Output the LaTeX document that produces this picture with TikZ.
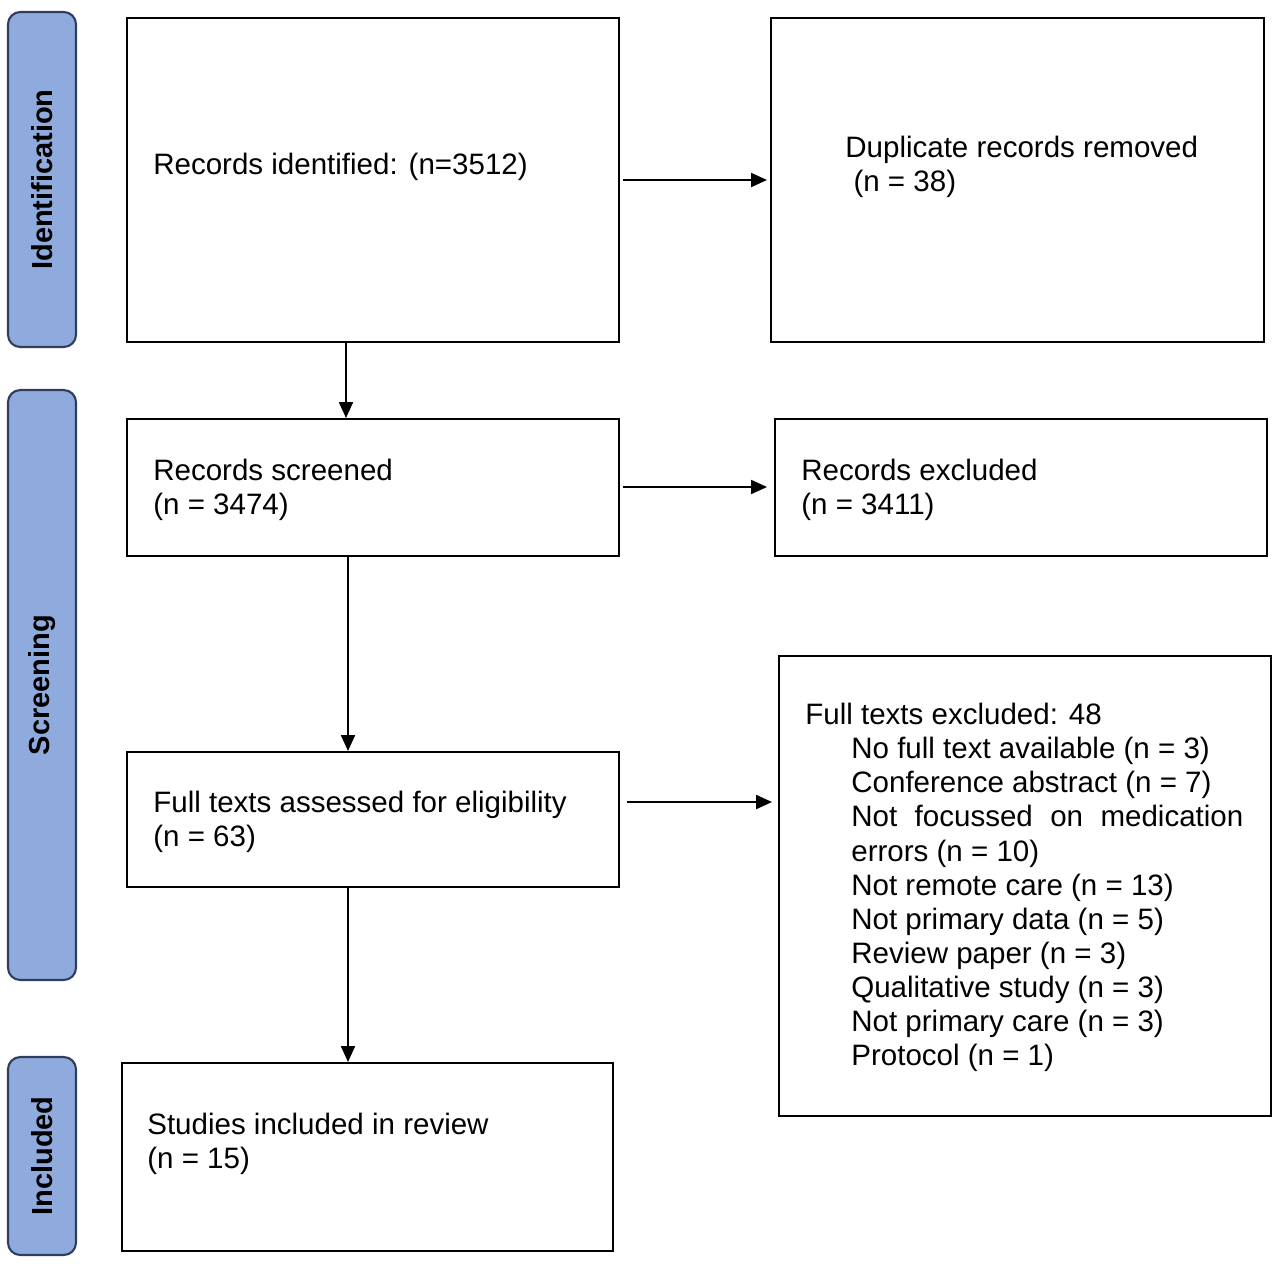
\documentclass[tikz,border=0pt]{standalone}
\usepackage{fontspec}
\setmainfont{Liberation Sans}
\usetikzlibrary{arrows.meta}
\definecolor{sidefill}{HTML}{8FAADC}
\definecolor{sidedraw}{HTML}{2F3E5C}
\begin{document}
\begin{tikzpicture}[x=0.02cm,y=-0.02cm,
  box/.style={draw=black,line width=1.2pt,inner sep=0pt},
  side/.style={draw=sidedraw,line width=1.2pt,fill=sidefill,rounded corners=7pt,inner sep=0pt},
  sidetxt/.style={rotate=90,font=\fontsize{16.5}{18}\selectfont\bfseries},
  txt/.style={anchor=north west,align=left,inner sep=0pt,font=\fontsize{16.8}{19.4}\selectfont},
  arr/.style={-{Triangle[length=9pt,width=8pt]},line width=0.9pt}]
\useasboundingbox (0,0) rectangle (1280,1269);
\newcommand\bx[5]{\node[box,minimum width=#4*0.02cm-#2*0.02cm,minimum height=#5*0.02cm-#3*0.02cm] (#1) at ({(#2+#4)/2},{(#3+#5)/2}) {};}
\newcommand\sd[6]{\node[side,minimum width=#4*0.02cm-#2*0.02cm,minimum height=#5*0.02cm-#3*0.02cm] (#1) at ({(#2+#4)/2},{(#3+#5)/2}) {}; \node[sidetxt] at (#1) {#6};}
\sd{s1}{8}{12}{76}{347}{Identification}
\sd{s2}{8}{390}{76}{980}{Screening}
\sd{s3}{8}{1057}{76}{1255}{Included}
\bx{A}{127}{18}{619}{342}
\bx{B}{771}{18}{1264}{342}
\bx{C}{127}{419}{619}{556}
\bx{D}{775}{419}{1267}{556}
\bx{E}{127}{752}{619}{887}
\bx{F}{779}{656}{1271}{1116}
\bx{G}{122}{1063}{613}{1251}
\node[txt] (ta) at (153,153) {Records identified: (n=3512)};
\node[txt] (tb) at (845,136) {Duplicate records removed\\\ (n = 38)};
\node[txt] (tc) at (153,459) {Records screened\\(n = 3474)};
\node[txt] (td) at (801,459) {Records excluded\\(n = 3411)};
\node[txt] (te) at (153,791) {Full texts assessed for eligibility\\(n = 63)};
\node[txt] (tf) at (805,703) {Full texts excluded: 48};
\node[txt,text width=392*0.02cm,align=justify] (tg) at (851,737) {No full text available (n = 3)\\Conference abstract (n = 7)\\Not focussed on medication errors (n = 10)\\Not remote care (n = 13)\\Not primary data (n = 5)\\Review paper (n = 3)\\Qualitative study (n = 3)\\Not primary care (n = 3)\\Protocol (n = 1)};
\node[txt] (th) at (147,1113) {Studies included in review\\(n = 15)};
\coordinate (x1) at (346,0);
\coordinate (x2) at (348,0);
\draw[arr] (A.south -| x1) -- (C.north -| x1);
\draw[arr] (C.south -| x2) -- (E.north -| x2);
\draw[arr] (E.south -| x2) -- (G.north -| x2);
\coordinate (y1) at (0,180);
\coordinate (y2) at (0,487);
\coordinate (y3) at (0,802);
\draw[arr] ([xshift=3*0.02cm]A.east |- y1) -- ([xshift=-3*0.02cm]B.west |- y1);
\draw[arr] ([xshift=3*0.02cm]C.east |- y2) -- ([xshift=-7*0.02cm]D.west |- y2);
\draw[arr] ([xshift=7*0.02cm]E.east |- y3) -- ([xshift=-6*0.02cm]F.west |- y3);
\end{tikzpicture}
\end{document}
